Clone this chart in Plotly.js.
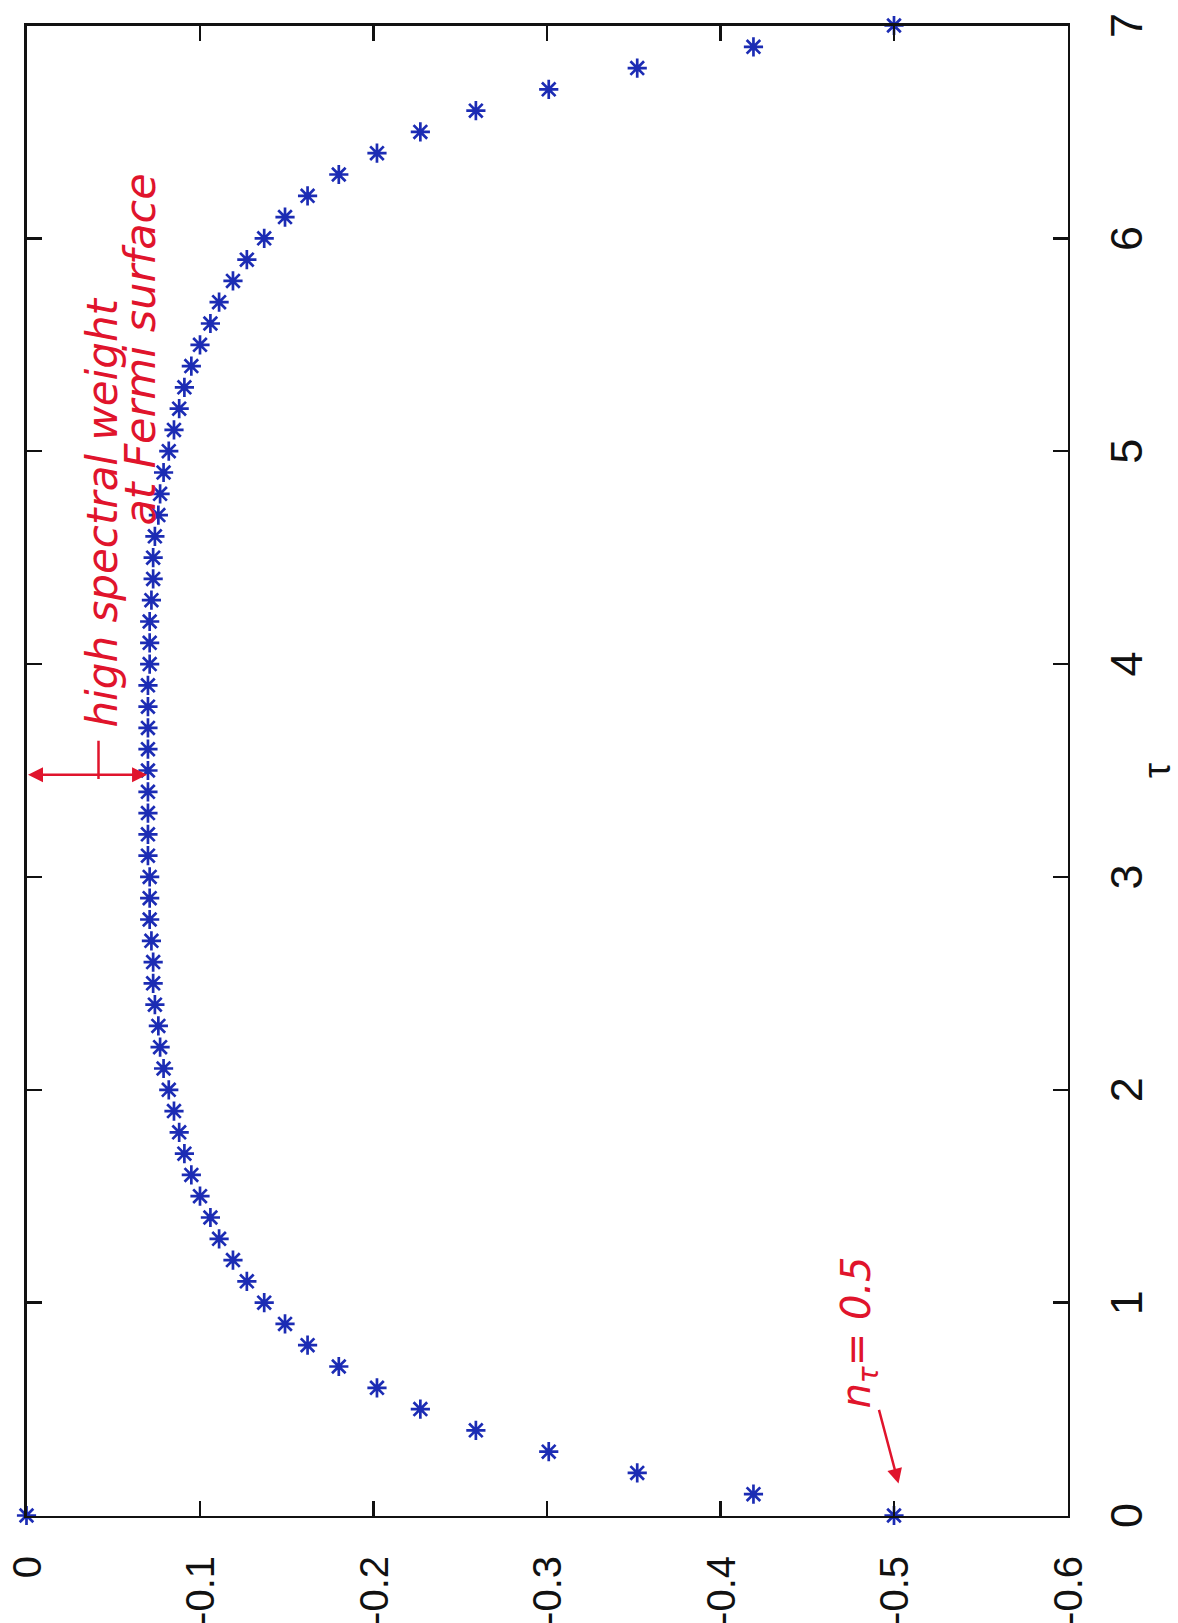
<!DOCTYPE html>
<html>
<head>
<meta charset="utf-8">
<script src="https://cdn.plot.ly/plotly-3.0.1.min.js"></script>
<style>
  html, body { margin: 0; padding: 0; background: #ffffff; overflow: hidden; width: 1178px; height: 1623px; }
  #plot { position: absolute; width: 1623px; height: 1178px; left: -222.5px; top: 222.5px; transform: rotate(-90deg); }
</style>
</head>
<body>
<div id="plot"></div>
<script>
// ---- data ----
const tauValues = [0.0,0.1,0.2,0.3,0.4,0.5,0.6,0.7,0.8,0.9,
                   1.0,1.1,1.2,1.3,1.4,1.5,1.6,1.7,1.8,1.9,
                   2.0,2.1,2.2,2.3,2.4,2.5,2.6,2.7,2.8,2.9,
                   3.0,3.1,3.2,3.3,3.4,3.5,3.6,3.7,3.8,3.9,
                   4.0,4.1,4.2,4.3,4.4,4.5,4.6,4.7,4.8,4.9,
                   5.0,5.1,5.2,5.3,5.4,5.5,5.6,5.7,5.8,5.9,
                   6.0,6.1,6.2,6.3,6.4,6.5,6.6,6.7,6.8,6.9,7.0];
const gValues = [-0.500,-0.419,-0.352,-0.301,-0.259,-0.227,-0.202,-0.180,-0.162,-0.149,
                 -0.137,-0.127,-0.119,-0.111,-0.106,-0.100,-0.095,-0.091,-0.088,-0.085,
                 -0.082,-0.079,-0.077,-0.076,-0.074,-0.073,-0.073,-0.072,-0.071,-0.071,
                 -0.071,-0.070,-0.070,-0.070,-0.070,-0.070,-0.070,-0.070,-0.070,-0.070,
                 -0.071,-0.071,-0.071,-0.072,-0.073,-0.073,-0.074,-0.076,-0.077,-0.079,
                 -0.082,-0.085,-0.088,-0.091,-0.095,-0.100,-0.106,-0.111,-0.119,-0.127,
                 -0.137,-0.149,-0.162,-0.180,-0.202,-0.227,-0.259,-0.301,-0.352,-0.419,-0.500];
const strayTau = [0.0];
const strayG = [0.0];

const xTickVals = [0,1,2,3,4,5,6,7];
const xTickText = ['0','1','2','3','4','5','6','7'];
const yTickVals = [0,-0.1,-0.2,-0.3,-0.4,-0.5,-0.6];
const yTickText = ['0','-0.1','-0.2','-0.3','-0.4','-0.5','-0.6'];

const xTitle = 'τ';
const noteHigh = 'high spectral weight';
const noteFermi = 'at Fermi surface';
const noteN = 'n<sub>τ</sub>= 0.5';

// ---- styles ----
const blue = '#1c2cb4';
const red = '#e0142c';
const black = '#111111';
const tickFontX = {family: 'Liberation Sans, Arial, sans-serif', size: 45, color: black};
const tickFontY = {family: 'Liberation Sans, Arial, sans-serif', size: 40, color: black};

const traces = [{
  type: 'scatter',
  mode: 'markers',
  x: strayTau.concat(tauValues),
  y: strayG.concat(gValues),
  cliponaxis: false,
  marker: {symbol: 'asterisk-open', size: 16, color: blue, line: {color: blue, width: 2.7}},
  hoverinfo: 'x+y',
  showlegend: false
}];

const axisCommon = {
  ticks: 'inside', ticklen: 15, tickwidth: 2.5, tickcolor: black,
  mirror: 'allticks', showline: true, linecolor: black, linewidth: 2.5,
  showgrid: false, zeroline: false, automargin: false
};

const layout = {
  width: 1623, height: 1178,
  margin: {l: 108, r: 25, t: 26, b: 111, pad: 0},
  paper_bgcolor: '#ffffff', plot_bgcolor: '#ffffff',
  showlegend: false,
  xaxis: Object.assign({}, axisCommon, {
    range: [0, 7], tickmode: 'array', tickvals: xTickVals, ticktext: xTickText,
    tickfont: tickFontX, ticklabelstandoff: 18,
    title: {text: xTitle, font: {family: 'Liberation Sans, Arial, sans-serif', size: 38, color: black}, standoff: 2}
  }),
  yaxis: Object.assign({}, axisCommon, {
    range: [-0.6, 0], tickmode: 'array', tickvals: yTickVals, ticktext: yTickText,
    tickfont: tickFontY, ticklabelstandoff: 30
  }),
  annotations: [
    {x: 4.71, y: -0.0435, xref: 'x', yref: 'y', text: noteHigh, showarrow: false,
     xanchor: 'center', yanchor: 'middle',
     font: {family: 'DejaVu Sans, sans-serif', size: 42, color: red, style: 'italic'}},
    {x: 5.48, y: -0.0650, xref: 'x', yref: 'y', text: noteFermi, showarrow: false,
     xanchor: 'center', yanchor: 'middle',
     font: {family: 'DejaVu Sans, sans-serif', size: 43, color: red, style: 'italic'}},
    {x: 0.15, y: -0.5026, ax: 0.86, ay: -0.4795, xref: 'x', yref: 'y', axref: 'x', ayref: 'y',
     text: noteN, showarrow: true, arrowhead: 2, arrowsize: 1.2, arrowwidth: 2.5, arrowcolor: red,
     xanchor: 'center', yanchor: 'middle',
     font: {family: 'DejaVu Sans, sans-serif', size: 40, color: red, style: 'italic'}},
    {x: 3.48, y: -0.0695, ax: 3.48, ay: 0, xref: 'x', yref: 'y', axref: 'x', ayref: 'y',
     text: '', showarrow: true, arrowside: 'end+start', arrowhead: 2, arrowsize: 1.2,
     arrowwidth: 2.5, arrowcolor: red, standoff: 0, startstandoff: 0}
  ],
  shapes: [
    {type: 'line', xref: 'x', yref: 'y', x0: 3.46, x1: 3.64, y0: -0.0415, y1: -0.0415,
     line: {color: red, width: 2.5}}
  ]
};

Plotly.newPlot('plot', traces, layout, {staticPlot: true, displayModeBar: false});
</script>
</body>
</html>
